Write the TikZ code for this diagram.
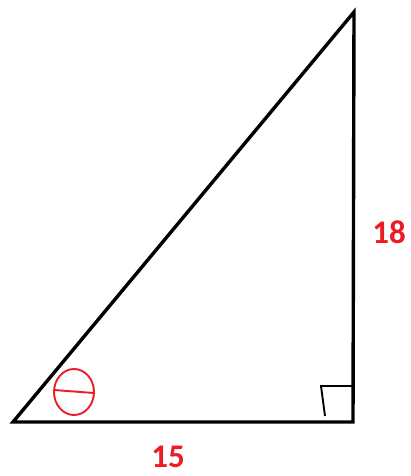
\documentclass[tikz,border=0pt]{standalone}
\usepackage{fontspec}
\setmainfont{Carlito}
\usepackage{tikz}
\usetikzlibrary{positioning,calc}
\definecolor{mred}{RGB}{237,28,36}

\begin{document}
\begin{tikzpicture}[x=1pt, y=-1pt,
  side/.style={line width=3.4pt, line join=miter, line cap=butt},
  pen/.style={mred, line width=1.9pt, line cap=round},
  len/.style={text=mred, font=\fontsize{33}{36}\selectfont\bfseries,
              inner sep=0pt, anchor=base}]
  \useasboundingbox (0,0) rectangle (411,476);
  \coordinate (bl) at (13,422);
  \coordinate (br) at (353,422);
  \coordinate (tp) at (354,12);
  \draw[side] (bl) -- (br) -- (tp) -- cycle;
  % right angle mark
  \draw[line width=1.9pt] (353,386) -- (321,386) -- (325,416);
  % theta
  \draw[pen] (74,392) ellipse (20 and 23);
  \draw[pen] (54,390) -- (94,393);
  \node[len] (a) at (168,467) {15};
  \node[len] (b) at (389,243) {18};
\end{tikzpicture}
\end{document}
